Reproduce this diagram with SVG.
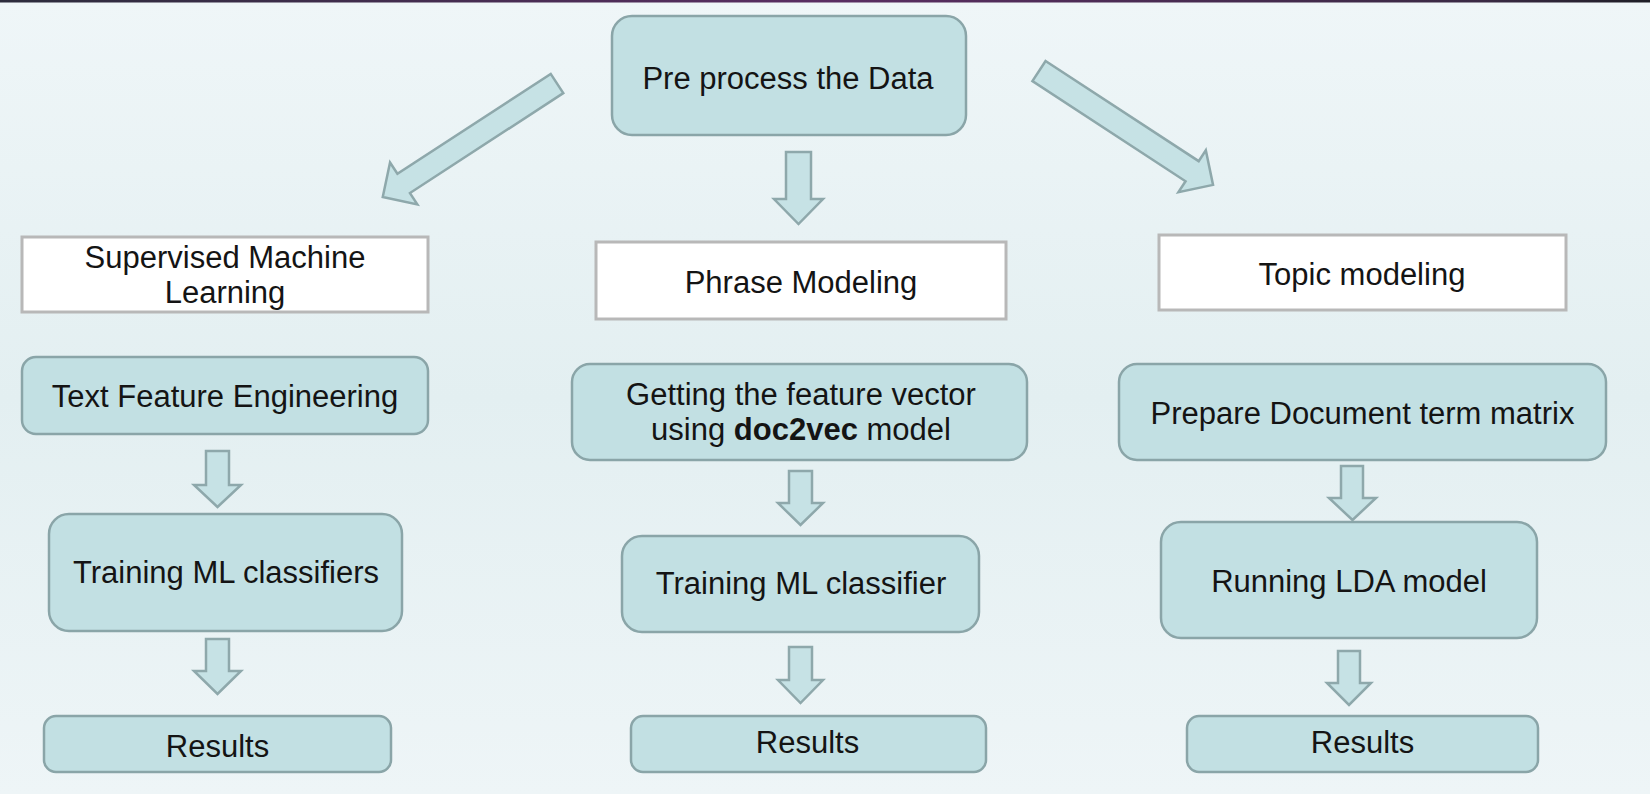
<svg xmlns="http://www.w3.org/2000/svg" width="1650" height="794" viewBox="0 0 1650 794">
  <defs>
    <linearGradient id="bg" x1="0" y1="0" x2="0" y2="1">
      <stop offset="0" stop-color="#eff6f8"/>
      <stop offset="0.5" stop-color="#e3eff1"/>
      <stop offset="1" stop-color="#eef5f7"/>
    </linearGradient>
    <linearGradient id="strip" x1="0" y1="0" x2="1" y2="0">
      <stop offset="0" stop-color="#2c2c3c"/>
      <stop offset="0.5" stop-color="#5a2d62"/>
      <stop offset="0.9" stop-color="#3a2a44"/>
      <stop offset="1" stop-color="#1e1e26"/>
    </linearGradient>
    <style>
      .box { fill: #c2e0e3; stroke: #8aa5a8; stroke-width: 2.5; }
      .wbox { fill: #ffffff; stroke: #b8b8b8; stroke-width: 3; }
      .arrow { fill: #c6e2e5; stroke: #8ea8ab; stroke-width: 2.5; stroke-linejoin: miter; }
      .t { font-family: "Liberation Sans", Arial, Helvetica, sans-serif; font-size: 31px; fill: #141414; text-anchor: middle; }
      .b { font-weight: bold; }
    </style>
  </defs>

  <rect x="0" y="0" width="1650" height="794" fill="url(#bg)"/>
  <rect x="0" y="0" width="1650" height="2.5" fill="url(#strip)"/>

  <g id="connectors">
    <!-- diagonal arrows: local coordinates pointing +x, length 208 -->
    <polygon class="arrow" transform="translate(557,83.5) rotate(146.9)" points="0,-11.5 183,-11.5 183,-25 208,0 183,25 183,11.5 0,11.5"/>
    <polygon class="arrow" transform="translate(1039,71) rotate(33.2)" points="0,-12 183,-12 183,-25 208,0 183,25 183,12 0,12"/>
    <!-- vertical arrows -->
    <polygon class="arrow" points="786,152 811,152 811,199 823,199 798.5,224 774,199 786,199"/>
    <polygon class="arrow" points="206,451 229,451 229,485 241,485 217.5,507 194,485 206,485"/>
    <polygon class="arrow" points="206,639 229,639 229,671 241,671 217.5,694 194,671 206,671"/>
    <polygon class="arrow" points="789,471 812,471 812,503 823,503 800.5,525 778,503 789,503"/>
    <polygon class="arrow" points="789,647 812,647 812,680 823,680 800.5,703 778,680 789,680"/>
    <polygon class="arrow" points="1341,466 1363,466 1363,498 1376,498 1352.5,520 1329,498 1341,498"/>
    <polygon class="arrow" points="1338,651 1360,651 1360,683 1371,683 1349,705 1327,683 1338,683"/>
  </g>

  <g id="preprocess">
    <rect class="box" x="612" y="16" width="354" height="119" rx="20"/>
    <text class="t" x="788" y="89">Pre process the Data</text>
  </g>

  <g id="supervised">
    <rect class="wbox" x="22" y="237" width="406" height="75"/>
    <text class="t" x="225" y="268">Supervised Machine</text>
    <text class="t" x="225" y="303">Learning</text>
  </g>
  <g id="textfeature">
    <rect class="box" x="22" y="357" width="406" height="77" rx="14"/>
    <text class="t" x="225" y="407">Text Feature Engineering</text>
  </g>
  <g id="trainingL">
    <rect class="box" x="49" y="514" width="353" height="117" rx="20"/>
    <text class="t" x="226" y="583">Training ML classifiers</text>
  </g>
  <g id="resultsL">
    <rect class="box" x="44" y="716" width="347" height="56" rx="12"/>
    <text class="t" x="217.5" y="757">Results</text>
  </g>

  <g id="phrase">
    <rect class="wbox" x="596" y="242" width="410" height="77"/>
    <text class="t" x="801" y="293">Phrase Modeling</text>
  </g>
  <g id="doc2vec">
    <rect class="box" x="572" y="364" width="455" height="96" rx="18"/>
    <text class="t" x="801" y="405">Getting the feature vector</text>
    <text class="t" x="801" y="440">using <tspan class="b">doc2vec</tspan> model</text>
  </g>
  <g id="trainingM">
    <rect class="box" x="622" y="536" width="357" height="96" rx="20"/>
    <text class="t" x="801" y="594">Training ML classifier</text>
  </g>
  <g id="resultsM">
    <rect class="box" x="631" y="716" width="355" height="56" rx="12"/>
    <text class="t" x="807.5" y="753">Results</text>
  </g>

  <g id="topic">
    <rect class="wbox" x="1159" y="235" width="407" height="75"/>
    <text class="t" x="1362" y="285">Topic modeling</text>
  </g>
  <g id="dtm">
    <rect class="box" x="1119" y="364" width="487" height="96" rx="18"/>
    <text class="t" x="1362.5" y="424">Prepare Document term matrix</text>
  </g>
  <g id="lda">
    <rect class="box" x="1161" y="522" width="376" height="116" rx="20"/>
    <text class="t" x="1349" y="592">Running LDA model</text>
  </g>
  <g id="resultsR">
    <rect class="box" x="1187" y="716" width="351" height="56" rx="12"/>
    <text class="t" x="1362.5" y="753">Results</text>
  </g>
</svg>
